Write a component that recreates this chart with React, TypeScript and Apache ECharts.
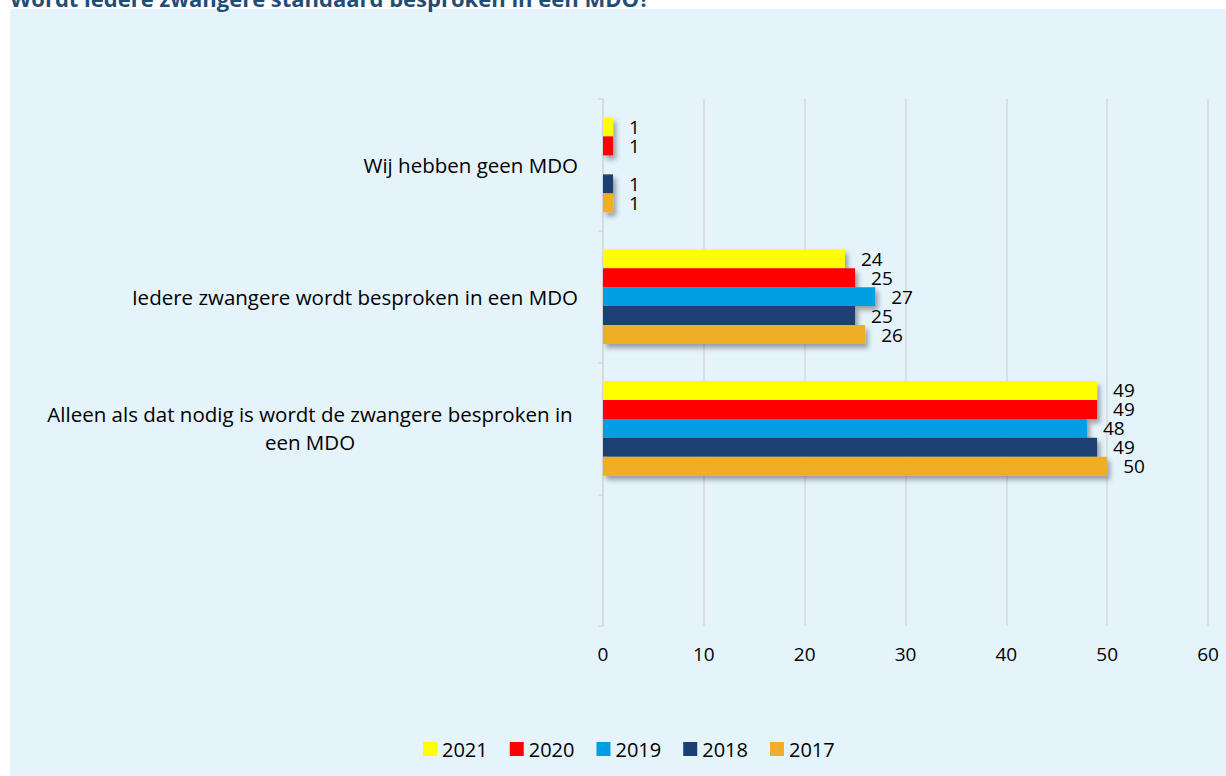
import React, { useEffect, useRef } from "react";
import * as echarts from "echarts";

const titleText = "Wordt iedere zwangere standaard besproken in een MDO?";
const categories = [
  "Wij hebben geen MDO",
  "Iedere zwangere wordt besproken in een MDO",
  "Alleen als dat nodig is wordt de zwangere besproken in een MDO",
  "",
];
const seriesNames = ["2021", "2020", "2019", "2018", "2017"];
const seriesColors = ["#FFFF00", "#FF0000", "#009FE3", "#1A3F72", "#F0AE28"];
const values2021 = [1, 24, 49, null];
const values2020 = [1, 25, 49, null];
const values2019 = [null, 27, 48, null];
const values2018 = [1, 25, 49, null];
const values2017 = [1, 26, 50, null];
const allValues = [values2021, values2020, values2019, values2018, values2017];
const xTicks = { min: 0, max: 60, interval: 10 };

const FONT = "'Open Sans', Lato, sans-serif";
const FS = 19;
const CAT_FS = 20.5;

export default function App() {
  const ref = useRef<HTMLDivElement>(null);
  useEffect(() => {
    if (!ref.current) return;
    const chart = echarts.init(ref.current, undefined, { renderer: "svg" });
    const longLabel = categories[2];
    chart.setOption({
      animation: false,
      textStyle: { fontFamily: FONT },
      graphic: [
        {
          type: "rect",
          z: -10,
          shape: { x: 10, y: 9, width: 1216, height: 767 },
          style: { fill: "#E5F3FB" },
          silent: true,
        },
        {
          type: "text",
          x: 10,
          y: 8.5,
          style: {
            text: titleText,
            font: `bold 22px ${FONT}`,
            fill: "#1F4E79",
            verticalAlign: "bottom",
          },
        },
      ],
      grid: { left: 603, right: 18, top: 99, bottom: 150, containLabel: false },
      xAxis: {
        type: "value",
        min: xTicks.min,
        max: xTicks.max,
        interval: xTicks.interval,
        axisLine: { show: false },
        axisTick: { show: false },
        splitLine: { show: true, lineStyle: { color: "#D9D9D9", width: 1.5 } },
        axisLabel: { color: "#000", fontSize: FS, margin: 18, fontFamily: FONT },
      },
      yAxis: {
        type: "category",
        inverse: true,
        data: categories,
        axisLine: { show: true, lineStyle: { color: "#D9D9D9", width: 1.5 } },
        axisTick: { show: true, length: 5, lineStyle: { color: "#D9D9D9", width: 1.5 } },
        axisLabel: {
          color: "#000",
          fontSize: CAT_FS,
          margin: 25,
          fontFamily: FONT,
          formatter: (v: string) => {
            if (v === longLabel) {
              return "{c|Alleen als dat nodig is wordt de zwangere besproken in}\n{c|een MDO}";
            }
            return v;
          },
          rich: {
            c: { width: 536, align: "center", fontSize: CAT_FS, color: "#000", lineHeight: 28, fontFamily: FONT },
          },
        },
      },
      legend: {
        data: seriesNames,
        left: 418,
        top: 734,
        icon: "rect",
        itemWidth: 14,
        itemHeight: 14,
        itemGap: 22,
        textStyle: { fontSize: 20, color: "#000", fontFamily: FONT },
      },
      series: seriesNames.map((name, i) => ({
        name,
        type: "bar",
        data: allValues[i],
        barGap: "0%",
        barCategoryGap: "28%",
        itemStyle: {
          color: seriesColors[i],
          shadowBlur: 5,
          shadowOffsetX: 3,
          shadowOffsetY: 4,
          shadowColor: "rgba(0,0,0,0.35)",
        },
        label: {
          show: true,
          position: "right",
          distance: 16,
          fontSize: FS,
          lineHeight: 18,
          color: "#000",
          fontFamily: FONT,
        },
      })),
    });
    return () => chart.dispose();
  }, []);
  return (
    <div
      ref={ref}
      style={{ position: "absolute", left: 0, top: 0, width: 1226, height: 776 }}
    />
  );
}
